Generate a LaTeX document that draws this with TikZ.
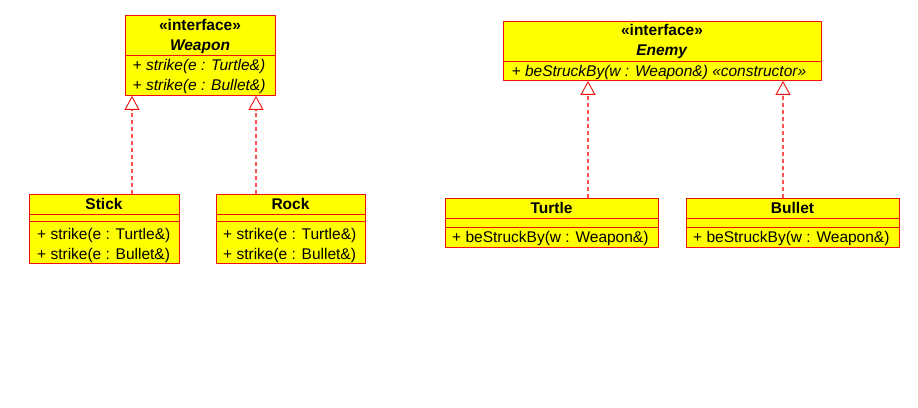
\documentclass[tikz,border=0pt]{standalone}
\usepackage{fontspec}
\setmainfont{Liberation Sans}
\usetikzlibrary{arrows.meta}
\definecolor{umlfill}{HTML}{FFFF00}
\definecolor{umlline}{HTML}{F01010}
\definecolor{dashred}{HTML}{FF5050}
\tikzset{
  comp/.style={draw=umlline, fill=umlfill, line width=0.9pt, rectangle, inner sep=0pt, anchor=north west},
  lbl/.style={inner sep=0pt, font=\fontsize{15.5}{17}\selectfont, anchor=base},
  mlbl/.style={inner sep=0pt, font=\fontsize{15.5}{17}\selectfont, anchor=base west},
  impl/.style={draw=dashred, line width=1.4pt, dash pattern=on 4pt off 3pt,
    -{Triangle[open, width=15pt, length=14pt, line width=0.9pt, color=umlline, fill=white]}},
}
\begin{document}
\begin{tikzpicture}[x=1pt,y=1pt]
\useasboundingbox[fill=white] (0,0) rectangle (918,407);
% ---- Weapon
\node[comp, minimum width=150pt, minimum height=40pt] (weaponH) at (125,392) {};
\node[comp, minimum width=150pt, minimum height=40pt] (weaponB) at (125,352) {};
\node[lbl] (weaponS) at (200,376.3) {\textbf{«interface»}};
\node[lbl] (weaponN) at (200,356.3) {\textbf{\itshape Weapon}};
\node[mlbl] (weaponM1) at (132.5,336) {\itshape + strike(e : Turtle\&)};
\node[mlbl] (weaponM2) at (132.5,316) {\itshape + strike(e : Bullet\&)};
% ---- Stick
\node[comp, minimum width=150pt, minimum height=20pt] (stickH) at (29,213) {};
\node[comp, minimum width=150pt, minimum height=7pt] (stickA) at (29,193) {};
\node[comp, minimum width=150pt, minimum height=42pt] (stickB) at (29,186) {};
\node[lbl] (stickN) at (104,197.7) {\textbf{Stick}};
\node[mlbl] (stickM1) at (37,167) {+ strike(e : Turtle\&)};
\node[mlbl] (stickM2) at (37,147.7) {+ strike(e : Bullet\&)};
% ---- Rock
\node[comp, minimum width=149pt, minimum height=20pt] (rockH) at (216,213) {};
\node[comp, minimum width=149pt, minimum height=7pt] (rockA) at (216,193) {};
\node[comp, minimum width=149pt, minimum height=42pt] (rockB) at (216,186) {};
\node[lbl] (rockN) at (290.5,197.7) {\textbf{Rock}};
\node[mlbl] (rockM1) at (223,167) {+ strike(e : Turtle\&)};
\node[mlbl] (rockM2) at (223,147.7) {+ strike(e : Bullet\&)};
% ---- Enemy
\node[comp, minimum width=318pt, minimum height=40pt] (enemyH) at (503,386) {};
\node[comp, minimum width=318pt, minimum height=19pt] (enemyB) at (503,346) {};
\node[lbl] (enemyS) at (662,371.3) {\textbf{«interface»}};
\node[lbl] (enemyN) at (662,351.3) {\textbf{\itshape Enemy}};
\node[mlbl] (enemyM1) at (511.5,330.3) {\itshape + beStruckBy(w : Weapon\&) «constructor»};
% ---- Turtle
\node[comp, minimum width=213pt, minimum height=20pt] (turtleH) at (445,209) {};
\node[comp, minimum width=213pt, minimum height=9pt] (turtleA) at (445,189) {};
\node[comp, minimum width=213pt, minimum height=20pt] (turtleB) at (445,180) {};
\node[lbl] (turtleN) at (551.5,193.7) {\textbf{Turtle}};
\node[mlbl] (turtleM1) at (452,164.3) {+ beStruckBy(w : Weapon\&)};
% ---- Bullet
\node[comp, minimum width=213pt, minimum height=20pt] (bulletH) at (686,209) {};
\node[comp, minimum width=213pt, minimum height=9pt] (bulletA) at (686,189) {};
\node[comp, minimum width=213pt, minimum height=20pt] (bulletB) at (686,180) {};
\node[lbl] (bulletN) at (792.5,193.7) {\textbf{Bullet}};
\node[mlbl] (bulletM1) at (693,164.3) {+ beStruckBy(w : Weapon\&)};
% ---- realizations
\coordinate (s1) at ([xshift=103pt]stickH.north west);
\coordinate (r1) at ([xshift=40pt]rockH.north west);
\coordinate (t1) at ([xshift=143pt]turtleH.north west);
\coordinate (b1) at ([xshift=97pt]bulletH.north west);
\draw[impl] (s1) -- (s1 |- weaponB.south);
\draw[impl] (r1) -- (r1 |- weaponB.south);
\draw[impl] (t1) -- (t1 |- enemyB.south);
\draw[impl] (b1) -- (b1 |- enemyB.south);
\end{tikzpicture}
\end{document}
